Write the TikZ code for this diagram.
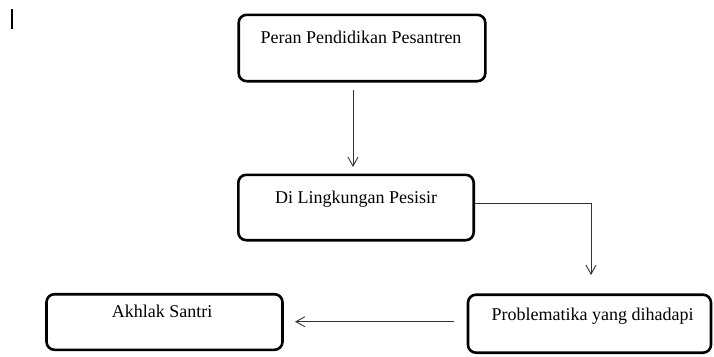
\documentclass[tikz,border=0pt]{standalone}
\usepackage{fontspec}
\setmainfont{Liberation Serif}
\usetikzlibrary{arrows.meta}
\begin{document}
\begin{tikzpicture}[x=1pt,y=-1pt,
  box/.style={draw=black, line width=2.6pt, rounded corners=8pt, inner sep=0pt},
  lbl/.style={font=\fontsize{18}{21}\selectfont, inner sep=0pt, anchor=base},
  conn/.style={draw=black!80, line width=0.9pt, -{Straight Barb[length=9pt,width=10pt,line width=0.9pt]}}]
\useasboundingbox (0,0) rectangle (714,356);
% top-left mark
\draw[line width=2pt] (12,9) -- (12,29);
% boxes
\node[box, minimum width=246.6pt, minimum height=66.4pt] (A) at (362,48) {};
\node[box, minimum width=235.4pt, minimum height=65.4pt] (B) at (356,207.5) {};
\node[box, minimum width=243pt, minimum height=58pt] (C) at (589.5,323.7) {};
\node[box, minimum width=236pt, minimum height=55.6pt] (D) at (164.5,322) {};
% labels
\node[lbl] (At) at (361,43.3) {Peran Pendidikan Pesantren};
\node[lbl] (Bt) at (356,203) {Di Lingkungan Pesisir};
\node[lbl] (Ct) at (592.5,320) {Problematika yang dihadapi};
\node[lbl] (Dt) at (162.2,317.3) {Akhlak Santri};
% connector endpoints
\coordinate (a1) at (353,90);
\coordinate (a2) at (353,167);
\coordinate (b1) at (B.east |- 0,203.3);
\coordinate (b2) at (591,203.3);
\coordinate (b3) at (591,275);
\coordinate (c1) at (454,321.7);
\coordinate (c2) at (295,321.7);
\draw[conn] (a1) -- (a2);
\draw[conn] (b1) -- (b2) -- (b3);
\draw[conn] (c1) -- (c2);
\end{tikzpicture}
\end{document}
